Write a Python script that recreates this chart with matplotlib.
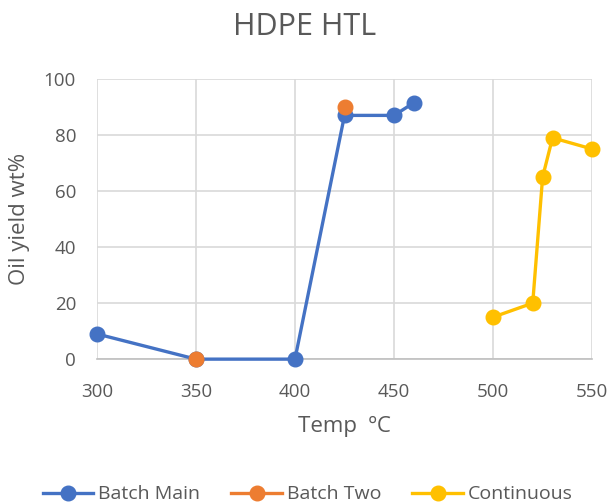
import matplotlib
matplotlib.use("Agg")
import matplotlib.pyplot as plt
from matplotlib.lines import Line2D

plt.rcParams['font.family'] = ['Open Sans', 'DejaVu Sans']

batch_main_x = [300, 350, 400, 425, 450, 460]
batch_main_y = [9, 0, 0, 87, 87, 91.5]
batch_two_x = [350, 425]
batch_two_y = [0, 90]
cont_x = [500, 520, 525, 530, 550]
cont_y = [15, 20, 65, 79, 75]
x_ticks = [300, 350, 400, 450, 500, 550]
y_ticks = [0, 20, 40, 60, 80, 100]

fig = plt.figure(figsize=(6.13, 5.03), dpi=100)
ax = fig.add_axes([0.158, 0.286, 0.808, 0.557])

lw = 2.4
ms = 10.5
colors = ['#4472C4', '#ED7D31', '#FFC000']
ax.plot(batch_main_x, batch_main_y, '-o', color=colors[0], lw=lw, ms=ms, zorder=3, clip_on=False)
ax.plot(batch_two_x, batch_two_y, 'o', color=colors[1], ms=ms, zorder=4, clip_on=False)
ax.plot(cont_x, cont_y, '-o', color=colors[2], lw=lw, ms=ms, zorder=3, clip_on=False)

ax.set_xlim(300, 550)
ax.set_ylim(0, 100)
ax.set_xticks(x_ticks)
ax.set_yticks(y_ticks)
ax.grid(True, color='#d9d9d9', lw=1.2)
ax.set_axisbelow(True)
for s in ['top', 'right', 'left']:
    ax.spines[s].set_visible(False)
ax.spines['bottom'].set_color('#bfbfbf')
ax.spines['bottom'].set_linewidth(1.2)
ax.tick_params(axis='x', length=0, colors='#595959', labelsize=13.5, pad=17)
ax.tick_params(axis='y', length=0, colors='#595959', labelsize=13.5, pad=15)
ax.set_xlabel('Temp  ºC', fontsize=16, color='#595959', labelpad=11)
ax.set_ylabel('Oil yield wt%', fontsize=16, color='#595959', labelpad=10)
fig.suptitle('HDPE HTL', fontsize=22, color='#595959', x=0.497, y=0.977)

handles = [Line2D([], [], color=c, lw=lw, marker='o', ms=ms) for c in colors]
fig.legend(handles, ['Batch Main', 'Batch Two', 'Continuous'], loc='center', ncol=3,
           frameon=False, bbox_to_anchor=(0.502, 0.017), fontsize=14, labelcolor='#595959',
           handlelength=2.6, columnspacing=1.6, handletextpad=0.25)

fig.savefig('out.png', dpi=100)
